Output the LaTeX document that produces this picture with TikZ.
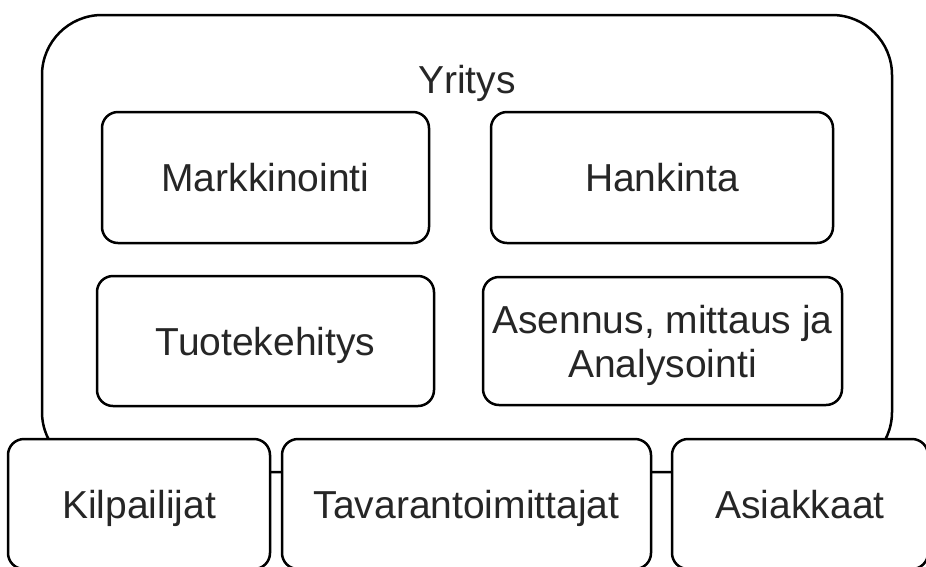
\documentclass[tikz,border=0pt]{standalone}
\usepackage{fontspec}
\setmainfont{Liberation Sans}
\begin{document}
\begin{tikzpicture}[x=1pt,y=-1pt,
  boxbase/.style={draw, line width=2.5pt, rounded corners=16pt, fill=white, inner sep=0pt,
    align=center, font=\fontsize{39}{44}\selectfont, text=black!85},
  single/.style={boxbase, text height=32pt, text depth=4pt}
]
\useasboundingbox (0,0) rectangle (926,566);
\clip (0,0) rectangle (926,566);
\fill[white] (0,0) rectangle (926,566);
% outer company box
\node[boxbase, rounded corners=60pt, fill=none, minimum width=850pt, minimum height=457pt] (yritys) at (467,243.5) {};
\node[anchor=base, font=\fontsize{39}{44}\selectfont, text=black!85, inner sep=0pt] (yrlabel) at (467,93) {Yritys};
% inner boxes
\node[single, minimum width=327pt, minimum height=131pt] (mark) at (265.5,177.5) {Markkinointi};
\node[single, minimum width=342pt, minimum height=131pt] (hank) at (662,177.5) {Hankinta};
\node[single, minimum width=337pt, minimum height=130pt] (tuote) at (265.5,341) {Tuotekehitys};
\node[boxbase, text depth=0pt, minimum width=359pt, minimum height=128pt] (asen) at (662.5,341) {Asennus, mittaus ja\\Analysointi};
% bottom boxes
\node[single, minimum width=262pt, minimum height=130pt] (kil) at (139,504) {Kilpailijat};
\node[single, minimum width=369pt, minimum height=130pt] (tav) at (466.5,504) {Tavarantoimittajat};
\node[single, minimum width=256pt, minimum height=130pt] (asi) at (800,504) {Asiakkaat};
\end{tikzpicture}
\end{document}
